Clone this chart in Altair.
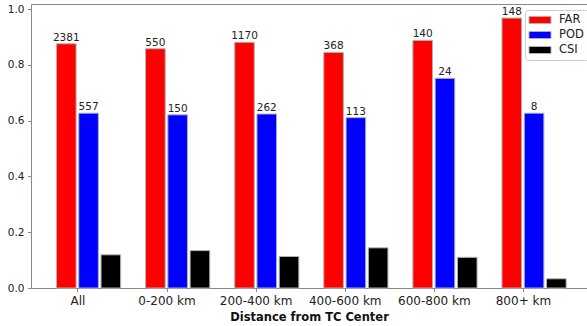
import altair as alt
import pandas as pd

# Verification scores by distance band from the TC centre
categories = ["All", "0-200 km", "200-400 km", "400-600 km", "600-800 km", "800+ km"]
far = [0.876, 0.858, 0.881, 0.845, 0.888, 0.968]
pod = [0.627, 0.621, 0.624, 0.611, 0.752, 0.627]
csi = [0.119, 0.134, 0.113, 0.144, 0.110, 0.033]
far_counts = [2381, 550, 1170, 368, 140, 148]
pod_counts = [557, 150, 262, 113, 24, 8]

metrics = ["FAR", "POD", "CSI"]
colors = ["#ff0000", "#0000ff", "#000000"]

# bar placement within each group (in category units)
offsets = {"FAR": -0.125, "POD": 0.125, "CSI": 0.375}
half_width = 0.11

rows = []
for i, cat in enumerate(categories):
    for m, vals, counts in [("FAR", far, far_counts), ("POD", pod, pod_counts), ("CSI", csi, None)]:
        c = i + offsets[m]
        rows.append({
            "category": cat, "metric": m, "value": vals[i],
            "x": c - half_width, "x2": c + half_width, "xc": c,
            "label": str(counts[i]) if counts else "",
        })
df = pd.DataFrame(rows)

FONT = "DejaVu Sans"
x_scale = alt.Scale(domain=[-0.521, 5.719], nice=False, zero=False)
y_scale = alt.Scale(domain=[0, 1.0186], nice=False)

label_expr = "[" + ",".join("'" + c + "'" for c in categories) + "][datum.value]"

x_axis = alt.Axis(
    values=list(range(len(categories))), labelExpr=label_expr,
    title="Distance from TC Center", titleFontWeight="bold", titleFontSize=11.5,
    titleFont=FONT, titleColor="#111", titlePadding=5,
    labelFont=FONT, labelFontSize=12, labelColor="#222", labelPadding=3.5,
    tickSize=3.5, grid=False, orient="bottom",
)
top_axis = alt.Axis(orient="top", labels=False, ticks=False, title=None, grid=False)
y_axis = alt.Axis(
    values=[0, 0.2, 0.4, 0.6, 0.8, 1.0], format=".1f", title=None,
    labelFont=FONT, labelFontSize=10.5, labelColor="#222", labelPadding=3.5,
    tickSize=3.5, grid=False,
)

# wide flat patch for the legend entries
legend_shape = "M-1.09,-0.64H2.91V0.64H-1.09Z"

bars = alt.Chart(df).mark_bar(stroke="#b0b0b0", strokeWidth=1).encode(
    x=alt.X("x:Q", scale=x_scale, axis=x_axis),
    x2="x2:Q",
    y=alt.Y("value:Q", scale=y_scale, axis=y_axis),
    y2=alt.datum(0),
    color=alt.Color(
        "metric:N",
        scale=alt.Scale(domain=metrics, range=colors),
        legend=alt.Legend(
            orient="none", legendX=494, legendY=6, title=None,
            symbolType=legend_shape, symbolSize=121,
            symbolStrokeColor="#b0b0b0", symbolStrokeWidth=1, symbolOpacity=1,
            labelFont=FONT, labelFontSize=11.5, labelColor="#222",
            labelOffset=18, rowPadding=3, padding=4,
            fillColor="white", strokeColor="#cccccc", cornerRadius=3,
        ),
    ),
)

labels = alt.Chart(df).transform_filter("datum.label != ''").mark_text(
    baseline="bottom", dy=-1, fontSize=10.5, font=FONT, color="#222"
).encode(
    x=alt.X("xc:Q", scale=x_scale, axis=top_axis),
    y=alt.Y("value:Q", scale=y_scale, axis=y_axis),
    text="label:N",
)

chart = alt.layer(bars, labels).resolve_axis(x="independent").properties(
    width=556, height=284,
    autosize=alt.AutoSizeParams(type="none"),
    padding={"left": 31, "top": 4, "right": 0, "bottom": 38},
).configure_view(stroke=None).configure_axis(
    domainColor="#333", tickColor="#333",
).configure(background="white")

chart.save("out.html", embed_options={"renderer": "svg", "actions": False})
